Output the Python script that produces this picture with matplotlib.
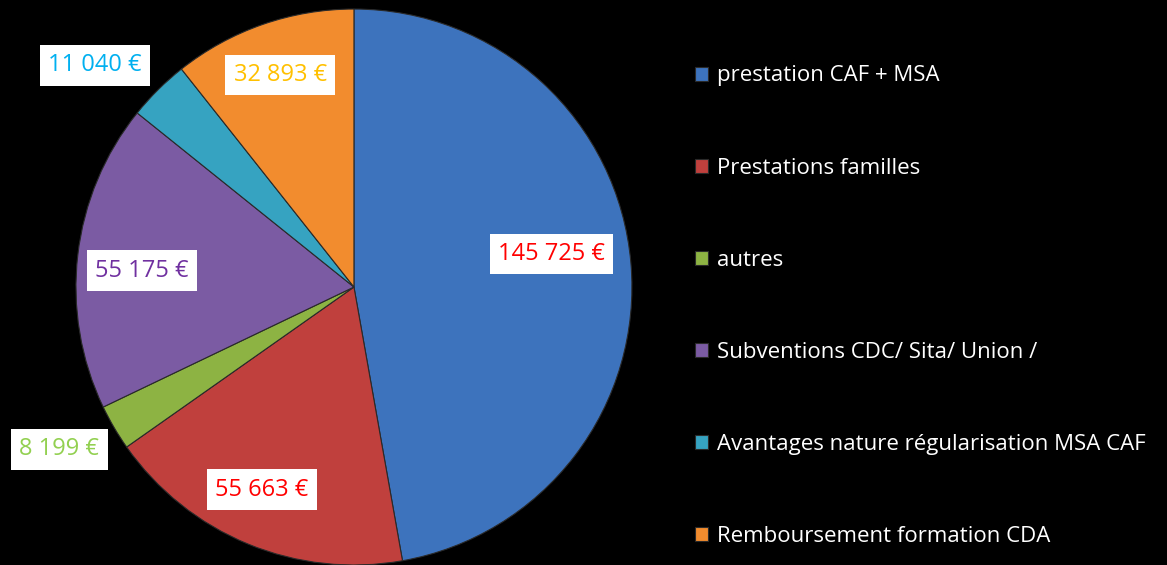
import numpy as np
import matplotlib.pyplot as plt

plt.rcParams['font.family'] = ['Open Sans', 'DejaVu Sans']

categories = ['prestation CAF + MSA', 'Prestations familles', 'autres',
              'Subventions CDC/ Sita/ Union /',
              'Avantages nature régularisation MSA CAF',
              'Remboursement formation CDA']
values = [145725, 55663, 8199, 55175, 11040, 32893]
value_labels = ['145 725 €', '55 663 €', '8 199 €', '55 175 €', '11 040 €', '32 893 €']

colors = ['#3d73bd', '#c0403d', '#8db343', '#7b5ba3', '#36a3c1', '#f28c2e']
text_colors = ['#ff0000', '#ff0000', '#92d050', '#7030a0', '#00b0f0', '#ffc000']
# where each value box sits: distance from centre (fraction of radius)
# and a small angular nudge from the slice's mid angle (degrees)
label_dist = [0.72, 0.80, 1.21, 0.765, 1.227, 0.808]
label_nudge = [4.5, -2.0, -1.5, 2.2, 4.7, 0.0]

fig = plt.figure(figsize=(11.67, 5.65), dpi=100, facecolor='black')
ax = fig.add_axes([0.0651, 0.0, 0.4764, 0.984])
ax.set_facecolor('black')

wedges, _ = ax.pie(values, colors=colors, startangle=90, counterclock=False,
                   radius=1.0, wedgeprops=dict(edgecolor='#2a2a2a', linewidth=0.8))
ax.set_xlim(-1, 1)
ax.set_ylim(-1, 1)
ax.set_aspect('equal')

for w, lab, tc, d, n in zip(wedges, value_labels, text_colors, label_dist, label_nudge):
    mid = np.deg2rad((w.theta1 + w.theta2) / 2 + n)
    ax.text(d * np.cos(mid), d * np.sin(mid), lab, color=tc, fontsize=17,
            ha='center', va='center',
            bbox=dict(facecolor='white', edgecolor='none', pad=6))

leg = fig.legend(wedges, categories, loc='center left', bbox_to_anchor=(0.578, 0.458),
                 frameon=False, fontsize=16, labelcolor='white',
                 handlelength=0.6, handleheight=0.6, handletextpad=0.4,
                 labelspacing=3.2)

fig.savefig('out.png', dpi=100, facecolor='black')
